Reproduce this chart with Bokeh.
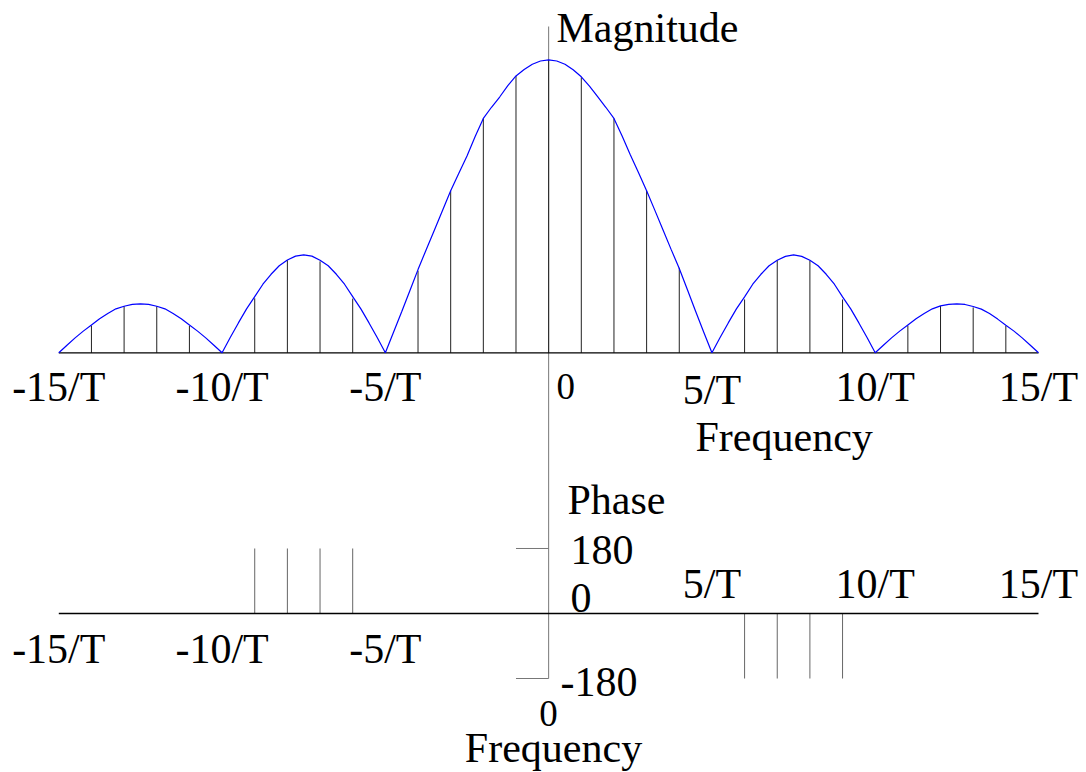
from bokeh.plotting import figure
from bokeh.models import Range1d, ColumnDataSource
from bokeh.core.properties import value
from bokeh.embed import file_html
from bokeh.resources import INLINE

# ---------------- data ----------------
# continuous magnitude envelope, frequency in units of 1/T
freq_curve = [-15, -14.75, -14.5, -14.25, -14, -13.75, -13.5, -13.25, -13, -12.75,
              -12.5, -12.25, -12, -11.75, -11.5, -11.25, -11, -10.75, -10.5, -10.25,
              -10, -9.75, -9.5, -9.25, -9, -8.75, -8.5, -8.25, -8, -7.75,
              -7.5, -7.25, -7, -6.75, -6.5, -6.25, -6, -5.75, -5.5, -5.25,
              -5, -4.75, -4.5, -4.25, -4, -3.75, -3.5, -3.25, -3, -2.75,
              -2.5, -2.25, -2, -1.75, -1.5, -1.25, -1, -0.75, -0.5, -0.25,
              0, 0.25, 0.5, 0.75, 1, 1.25, 1.5, 1.75, 2, 2.25,
              2.5, 2.75, 3, 3.25, 3.5, 3.75, 4, 4.25, 4.5, 4.75,
              5, 5.25, 5.5, 5.75, 6, 6.25, 6.5, 6.75, 7, 7.25,
              7.5, 7.75, 8, 8.25, 8.5, 8.75, 9, 9.25, 9.5, 9.75,
              10, 10.25, 10.5, 10.75, 11, 11.25, 11.5, 11.75, 12, 12.25,
              12.5, 12.75, 13, 13.25, 13.5, 13.75, 14, 14.25, 14.5, 14.75, 15]
mag_curve = [0.000, 0.026, 0.051, 0.074, 0.095, 0.116, 0.134, 0.150, 0.159, 0.165,
             0.167, 0.165, 0.159, 0.150, 0.134, 0.116, 0.095, 0.074, 0.051, 0.026,
             0.000, 0.052, 0.102, 0.150, 0.192, 0.234, 0.268, 0.297, 0.317, 0.330,
             0.334, 0.330, 0.316, 0.297, 0.268, 0.234, 0.192, 0.150, 0.102, 0.052,
             0.000, 0.070, 0.140, 0.212, 0.284, 0.352, 0.418, 0.486, 0.553, 0.613,
             0.672, 0.738, 0.800, 0.838, 0.873, 0.912, 0.945, 0.967, 0.985, 0.996,
             1.000, 0.996, 0.985, 0.966, 0.942, 0.910, 0.874, 0.838, 0.800, 0.740,
             0.676, 0.615, 0.553, 0.487, 0.420, 0.353, 0.288, 0.215, 0.142, 0.070,
             0.000, 0.052, 0.102, 0.150, 0.191, 0.234, 0.268, 0.297, 0.316, 0.329,
             0.334, 0.329, 0.316, 0.297, 0.268, 0.234, 0.191, 0.150, 0.102, 0.052,
             0.000, 0.026, 0.051, 0.074, 0.095, 0.116, 0.134, 0.150, 0.160, 0.165,
             0.167, 0.165, 0.158, 0.149, 0.134, 0.115, 0.094, 0.074, 0.051, 0.026, 0.000]

# spectral lines (magnitude)
stem_freq = [-14, -13, -12, -11, -9, -8, -7, -6, -4, -3, -2, -1, 0,
             1, 2, 3, 4, 6, 7, 8, 9, 11, 12, 13, 14]
stem_mag = [0.093, 0.159, 0.159, 0.092, 0.186, 0.316, 0.312, 0.185, 0.280, 0.553, 0.800, 0.945, 1.000,
            0.940, 0.800, 0.553, 0.290, 0.182, 0.315, 0.315, 0.182, 0.093, 0.160, 0.155, 0.092]

# spectral lines (phase, degrees)
phase_freq = [-9, -8, -7, -6, 6, 7, 8, 9]
phase_deg = [180, 180, 180, 180, -180, -180, -180, -180]

# tick labels
mag_tick_freq = [-15, -10, -5, 5, 10, 15]
mag_tick_labels = ["-15/T", "-10/T", "-5/T", "5/T", "10/T", "15/T"]
phase_pos_tick_freq = [5, 10, 15]
phase_pos_tick_labels = ["5/T", "10/T", "15/T"]
phase_neg_tick_freq = [-15, -10, -5]
phase_neg_tick_labels = ["-15/T", "-10/T", "-5/T"]
phase_value_labels = ["180", "0", "-180"]

# ---------------- layout ----------------
W, H = 1086, 772
FONT = value("Liberation Serif")
BIG = "42px"
SMALL = "37px"

p = figure(width=W, height=H,
           x_range=Range1d(-16.785, 16.470),
           y_range=Range1d(-1.4324, 1.2024),
           x_axis_type=None, y_axis_type=None,
           output_backend="svg", toolbar_location=None,
           min_border=0, outline_line_color=None)
p.extra_y_ranges = {"phase": Range1d(-440.3, 1697.5), "px": Range1d(H, 0)}
p.extra_x_ranges = {"px": Range1d(0, W)}
p.grid.visible = False
p.background_fill_color = "white"
p.border_fill_color = "white"

# vertical axis line shared by both panels
p.segment(x0=[0], y0=[26], x1=[0], y1=[678], y_range_name="px",
          line_color="#777777", line_width=1)
# phase ticks at +-180
p.segment(x0=[-1, -1], y0=[180, -180], x1=[0, 0], y1=[180, -180],
          y_range_name="phase", line_color="#777777", line_width=1)

# magnitude stems
p.segment(x0="f", y0=0, x1="f", y1="m",
          source=ColumnDataSource(dict(f=stem_freq, m=stem_mag)),
          line_color="#222222", line_width=1)
# magnitude baseline
p.segment(x0=[-15], y0=[0], x1=[15], y1=[0], line_color="black", line_width=1.3)
# envelope
p.line(freq_curve, mag_curve, line_color="#0000ff", line_width=1.2)

# phase stems
p.segment(x0="f", y0=0, x1="f", y1="d",
          source=ColumnDataSource(dict(f=phase_freq, d=phase_deg)),
          y_range_name="phase", line_color="#666666", line_width=1)
# phase baseline
p.segment(x0=[-15], y0=[0], x1=[15], y1=[0], y_range_name="phase",
          line_color="black", line_width=1.3)

# ---------------- texts ----------------
DY = -14  # renderer places alphabetic baseline this much lower


def txt(x, y, t, size=BIG, align="left", xr="default"):
    kw = dict(x=x, y=[v + DY for v in y], text=t, text_font=FONT, text_font_size=size,
              text_align=align, text_baseline="alphabetic", text_color="black",
              y_range_name="px")
    if xr != "default":
        kw["x_range_name"] = xr
    p.text(**kw)


# magnitude panel
txt([556], [41], ["Magnitude"], xr="px")
txt(mag_tick_freq, [400, 400, 400, 403, 400, 400], mag_tick_labels, align="center")
txt([556], [400], ["0"], size=SMALL, xr="px")
txt([695], [450], ["Frequency"], xr="px")

# phase panel
txt([567], [513], ["Phase"], xr="px")
txt([570, 570, 560], [563, 611, 695], phase_value_labels, xr="px")
txt(phase_pos_tick_freq, [597, 597, 597], phase_pos_tick_labels, align="center")
txt(phase_neg_tick_freq, [662, 662, 662], phase_neg_tick_labels, align="center")
txt([548], [727], ["0"], size=SMALL, align="center", xr="px")
txt([553], [761], ["Frequency"], align="center", xr="px")

open("out.html", "w").write(file_html(p, INLINE))
